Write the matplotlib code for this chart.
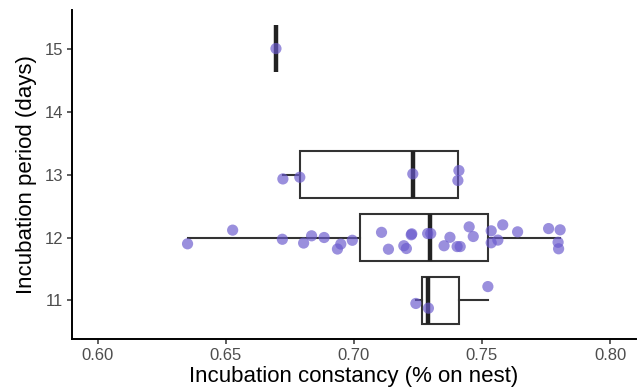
import matplotlib
matplotlib.use('Agg')
import matplotlib.pyplot as plt

plt.rcParams['font.family'] = ['Liberation Sans', 'DejaVu Sans']

# Box statistics per incubation period (days)
periods = [11, 12, 13, 15]
whisker_low = [0.7242, 0.6351, 0.6723, 0.6696]
quart1 = [0.7265, 0.7023, 0.6789, 0.6696]
medians = [0.7288, 0.7296, 0.7230, 0.6696]
quart3 = [0.7409, 0.7522, 0.7406, 0.6696]
whisker_high = [0.7523, 0.7804, 0.7406, 0.6696]

# Jittered observations (constancy, jittered period)
obs_x = [
    0.6696,
    0.6723, 0.6789, 0.7230, 0.7410, 0.7406,
    0.7242, 0.7291, 0.7523,
    0.6351, 0.6527, 0.6721, 0.6804, 0.6835, 0.6884, 0.6936, 0.6949,
    0.6994, 0.7108, 0.7135, 0.7195, 0.7205, 0.7224, 0.7226, 0.7288,
    0.7300, 0.7352, 0.7375, 0.7403, 0.7415, 0.7450, 0.7466, 0.7536,
    0.7536, 0.7562, 0.7581, 0.7639, 0.7760, 0.7805, 0.7797, 0.7799,
]
obs_y = [
    15.00,
    12.93, 12.957, 13.01, 13.063, 12.905,
    10.953, 10.878, 11.221,
    11.900, 12.117, 11.972, 11.912, 12.027, 12.000, 11.817, 11.896,
    11.956, 12.082, 11.814, 11.869, 11.825, 12.043, 12.058, 12.063,
    12.063, 11.869, 12.003, 11.856, 11.856, 12.169, 12.016, 12.106,
    11.916, 11.959, 12.201, 12.090, 12.142, 12.122, 11.924, 11.821,
]

x_ticks = [0.60, 0.65, 0.70, 0.75, 0.80]
y_ticks = [11, 12, 13, 14, 15]

fig = plt.figure(figsize=(6.37, 3.90), dpi=100)
ax = fig.add_axes([0.113, 0.131, 0.885, 0.843])

stats = [dict(med=m, q1=a, q3=b, whislo=lo, whishi=hi, fliers=[])
         for m, a, b, lo, hi in zip(medians, quart1, quart3, whisker_low, whisker_high)]
ax.bxp(stats, positions=periods, widths=0.74, orientation='horizontal',
       showfliers=False, showcaps=False, patch_artist=True, manage_ticks=False,
       boxprops=dict(facecolor='white', edgecolor='#333333', linewidth=1.5),
       medianprops=dict(color='#222222', linewidth=3.2, solid_capstyle='butt'),
       whiskerprops=dict(color='#333333', linewidth=1.5),
       zorder=2)

ax.scatter(obs_x, obs_y, s=65, color='#6A5ACD', alpha=0.68, edgecolors='none', zorder=3)

ax.set_xlim(0.59, 0.81)
ax.set_ylim(10.39, 15.61)
ax.set_xticks(x_ticks)
ax.set_xticklabels([f'{t:.2f}' for t in x_ticks])
ax.set_yticks(y_ticks)
ax.set_yticklabels([str(t) for t in y_ticks])

for side in ['top', 'right']:
    ax.spines[side].set_visible(False)
for side in ['left', 'bottom']:
    ax.spines[side].set_linewidth(1.4)
    ax.spines[side].set_color('black')
ax.tick_params(axis='both', length=3.5, width=1.1, color='#333333',
               labelcolor='#4D4D4D', labelsize=12, pad=3)

ax.set_xlabel('Incubation constancy (% on nest)', fontsize=16, color='black', labelpad=2)
ax.set_ylabel('Incubation period (days)', fontsize=16, color='black', labelpad=5)

fig.savefig('out.png', dpi=100)
